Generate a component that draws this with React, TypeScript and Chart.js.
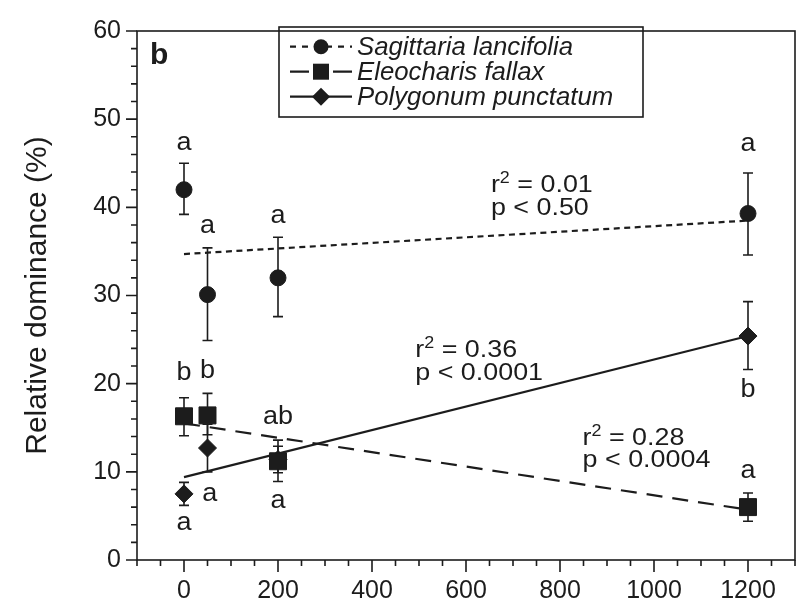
import { useEffect, useRef } from 'react';
import { Chart, registerables } from 'chart.js';

Chart.register(...registerables);

// ---------- data ----------
const doses = [0, 50, 200, 1200];

const sagName = 'Sagittaria lancifolia';
const sagMean = [42.0, 30.1, 32.0, 39.3];
const sagLow = [39.2, 24.9, 27.6, 34.6];
const sagHigh = [45.0, 35.4, 36.6, 43.9];
const sagLetters = ['a', 'a', 'a', 'a'];
const sagLetterX = [0, 50, 200, 1200];
const sagLetterY = [47.3, 37.9, 39.0, 47.2];

const eleoName = 'Eleocharis fallax';
const eleoMean = [16.3, 16.4, 11.2, 6.0];
const eleoLow = [14.1, 14.2, 8.9, 4.4];
const eleoHigh = [18.4, 18.9, 13.6, 7.6];
const eleoLetters = ['b', 'b', 'ab', 'a'];
const eleoLetterX = [0, 50, 200, 1200];
const eleoLetterY = [21.2, 21.4, 16.2, 10.1];

const polyName = 'Polygonum punctatum';
const polyMean = [7.5, 12.7, 11.4, 25.4];
const polyLow = [6.2, 10.0, 9.9, 21.6];
const polyHigh = [8.8, 15.4, 12.9, 29.3];
const polyLetters = ['a', 'a', 'a', 'b'];
const polyLetterX = [0, 55, 200, 1200];
const polyLetterY = [4.2, 7.5, 6.7, 19.3];

const fitX = [0, 1200];
const sagFit = [34.7, 38.5];
const eleoFit = [15.5, 5.7];
const polyFit = [9.4, 25.4];

const statR2 = ['0.01', '0.36', '0.28'];
const statP = ['0.50', '0.0001', '0.0004'];
const statX = [653, 492, 848];
const statY = [41.7, 23.0, 13.1];

const xTicks = [0, 200, 400, 600, 800, 1000, 1200];
const yTicks = [0, 10, 20, 30, 40, 50, 60];

const yTitle = 'Relative dominance (%)';
const panelLabel = 'b';

// ---------- styles ----------
const FONT = '"Liberation Sans", Arial, Helvetica, sans-serif';
const INK = '#1c1c1c';
const STRETCH = 1.12;

const pts = (ys: number[]) => doses.map((x, i) => ({ x, y: ys[i] }));
const fit = (ys: number[]) => fitX.map((x, i) => ({ x, y: ys[i] }));

const series = [
  { mean: sagMean, low: sagLow, high: sagHigh, letters: sagLetters, lx: sagLetterX, ly: sagLetterY },
  { mean: eleoMean, low: eleoLow, high: eleoHigh, letters: eleoLetters, lx: eleoLetterX, ly: eleoLetterY },
  { mean: polyMean, low: polyLow, high: polyHigh, letters: polyLetters, lx: polyLetterX, ly: polyLetterY },
];

function wideText(ctx: CanvasRenderingContext2D, t: string, x: number, y: number, k = STRETCH) {
  ctx.save();
  ctx.translate(x, y);
  ctx.scale(k, 1);
  ctx.fillText(t, 0, 0);
  ctx.restore();
  return ctx.measureText(t).width * k;
}

const overlay = {
  id: 'overlay',
  beforeDatasetsDraw(chart: any) {
    const ctx = chart.ctx as CanvasRenderingContext2D;
    const xs = chart.scales.x;
    const ys = chart.scales.y;
    ctx.save();
    ctx.strokeStyle = INK;
    ctx.lineWidth = 1.6;
    series.forEach((s) => {
      doses.forEach((d, i) => {
        const px = xs.getPixelForValue(d);
        const y1 = ys.getPixelForValue(s.low[i]);
        const y2 = ys.getPixelForValue(s.high[i]);
        ctx.beginPath();
        ctx.moveTo(px, y1);
        ctx.lineTo(px, y2);
        ctx.moveTo(px - 5, y1);
        ctx.lineTo(px + 5, y1);
        ctx.moveTo(px - 5, y2);
        ctx.lineTo(px + 5, y2);
        ctx.stroke();
      });
    });
    ctx.restore();
  },
  afterDraw(chart: any) {
    const ctx = chart.ctx as CanvasRenderingContext2D;
    const xs = chart.scales.x;
    const ys = chart.scales.y;
    const a = chart.chartArea;
    ctx.save();
    // frame
    ctx.strokeStyle = INK;
    ctx.lineWidth = 1.6;
    ctx.strokeRect(a.left, a.top, a.right - a.left, a.bottom - a.top);
    // ticks
    ctx.beginPath();
    for (let v = 0; v <= 60; v += 2) {
      const py = ys.getPixelForValue(v);
      const len = v % 10 === 0 ? 11 : 6;
      ctx.moveTo(a.left, py);
      ctx.lineTo(a.left - len, py);
    }
    for (let v = -100; v <= 1300; v += 50) {
      const px = xs.getPixelForValue(v);
      const len = v % 200 === 0 ? 12 : 6;
      ctx.moveTo(px, a.bottom);
      ctx.lineTo(px, a.bottom + len);
    }
    ctx.stroke();

    // letters
    ctx.fillStyle = INK;
    ctx.font = `25px ${FONT}`;
    ctx.textAlign = 'center';
    ctx.textBaseline = 'middle';
    series.forEach((s) => {
      s.letters.forEach((t, i) => {
        wideText(ctx, t, xs.getPixelForValue(s.lx[i]), ys.getPixelForValue(s.ly[i]), 1.08);
      });
    });

    // stats
    ctx.textAlign = 'left';
    ctx.textBaseline = 'alphabetic';
    statR2.forEach((r2, i) => {
      const px = xs.getPixelForValue(statX[i]);
      const py = ys.getPixelForValue(statY[i]);
      ctx.font = `24px ${FONT}`;
      let w = wideText(ctx, 'r', px, py);
      ctx.font = `16px ${FONT}`;
      w += wideText(ctx, '2', px + w, py - 9);
      ctx.font = `24px ${FONT}`;
      wideText(ctx, ' = ' + r2, px + w, py);
      wideText(ctx, 'p < ' + statP[i], px, py + 22.5);
    });

    // panel label
    ctx.font = `bold 30px ${FONT}`;
    ctx.fillText(panelLabel, a.left + 13, a.top + 33);

    // legend
    const bx = 279, by = 27, bw = 364, bh = 90;
    ctx.lineWidth = 1.6;
    ctx.strokeRect(bx, by, bw, bh);
    const rows = [46.7, 71.7, 96.7];
    const names = [sagName, eleoName, polyName];
    const lx1 = 290, lx2 = 352, mx = 321;
    ctx.lineWidth = 2.2;
    ctx.setLineDash([6, 6]);
    ctx.beginPath();
    ctx.moveTo(lx1, rows[0]);
    ctx.lineTo(lx2, rows[0]);
    ctx.stroke();
    ctx.setLineDash([]);
    ctx.beginPath();
    ctx.arc(mx, rows[0], 7.5, 0, Math.PI * 2);
    ctx.fill();
    ctx.beginPath();
    ctx.moveTo(lx1, rows[1]);
    ctx.lineTo(lx1 + 19, rows[1]);
    ctx.moveTo(lx2 - 19, rows[1]);
    ctx.lineTo(lx2, rows[1]);
    ctx.stroke();
    ctx.fillRect(mx - 8, rows[1] - 8, 16, 16);
    ctx.beginPath();
    ctx.moveTo(lx1, rows[2]);
    ctx.lineTo(lx2, rows[2]);
    ctx.stroke();
    ctx.beginPath();
    ctx.moveTo(mx, rows[2] - 9);
    ctx.lineTo(mx + 9, rows[2]);
    ctx.lineTo(mx, rows[2] + 9);
    ctx.lineTo(mx - 9, rows[2]);
    ctx.closePath();
    ctx.fill();
    ctx.font = `italic 25px ${FONT}`;
    ctx.textBaseline = 'middle';
    names.forEach((n, i) => wideText(ctx, n, 357, rows[i] + 1, 1.03));
    ctx.restore();
  },
};

export default function App() {
  const ref = useRef<HTMLCanvasElement>(null);
  useEffect(() => {
    const chart = new Chart(ref.current!, {
      type: 'scatter',
      data: {
        datasets: [
          { label: sagName, data: pts(sagMean), pointStyle: 'circle', pointRadius: 8, backgroundColor: INK, borderColor: INK, showLine: false },
          { label: eleoName, data: pts(eleoMean), pointStyle: 'rect', pointRadius: 12, backgroundColor: INK, borderColor: INK, showLine: false },
          { label: polyName, data: pts(polyMean), pointStyle: 'rectRot', pointRadius: 9, backgroundColor: INK, borderColor: INK, showLine: false },
          { label: 'fitS', data: fit(sagFit), showLine: true, pointRadius: 0, borderColor: INK, borderWidth: 2.2, borderDash: [6, 4.5] },
          { label: 'fitE', data: fit(eleoFit), showLine: true, pointRadius: 0, borderColor: INK, borderWidth: 2.2, borderDash: [16, 10] },
          { label: 'fitP', data: fit(polyFit), showLine: true, pointRadius: 0, borderColor: INK, borderWidth: 2.2 },
        ] as any,
      },
      options: {
        animation: false,
        responsive: false,
        devicePixelRatio: 1,
        layout: { padding: { top: 17, right: 11, left: 0, bottom: 0 } },
        plugins: { legend: { display: false }, tooltip: { enabled: false } },
        scales: {
          x: {
            type: 'linear',
            min: -100,
            max: 1300,
            grid: { display: false, drawTicks: false },
            border: { display: false },
            afterBuildTicks: (s: any) => { s.ticks = xTicks.map((v) => ({ value: v })); },
            afterFit: (s: any) => { s.height = 45; },
            ticks: { color: INK, font: { family: FONT, size: 25 }, padding: 16, maxRotation: 0, callback: (v: any) => String(v) },
          },
          y: {
            type: 'linear',
            min: 0,
            max: 60,
            grid: { display: false, drawTicks: false },
            border: { display: false },
            afterBuildTicks: (s: any) => { s.ticks = yTicks.map((v) => ({ value: v })); },
            afterFit: (s: any) => { s.width = 137; },
            ticks: { color: INK, font: { family: FONT, size: 25 }, padding: 16, callback: (v: any) => String(v) },
            title: { display: true, text: yTitle, color: INK, font: { family: FONT, size: 30 }, padding: { top: 20, bottom: 0 } },
          },
        },
      } as any,
      plugins: [overlay],
    });
    return () => chart.destroy();
  }, []);
  return (
    <div style={{ position: 'absolute', left: 0, top: 0, width: 808, height: 605 }}>
      <canvas ref={ref} width={808} height={605} style={{ display: 'block', width: 808, height: 605 }} />
    </div>
  );
}
